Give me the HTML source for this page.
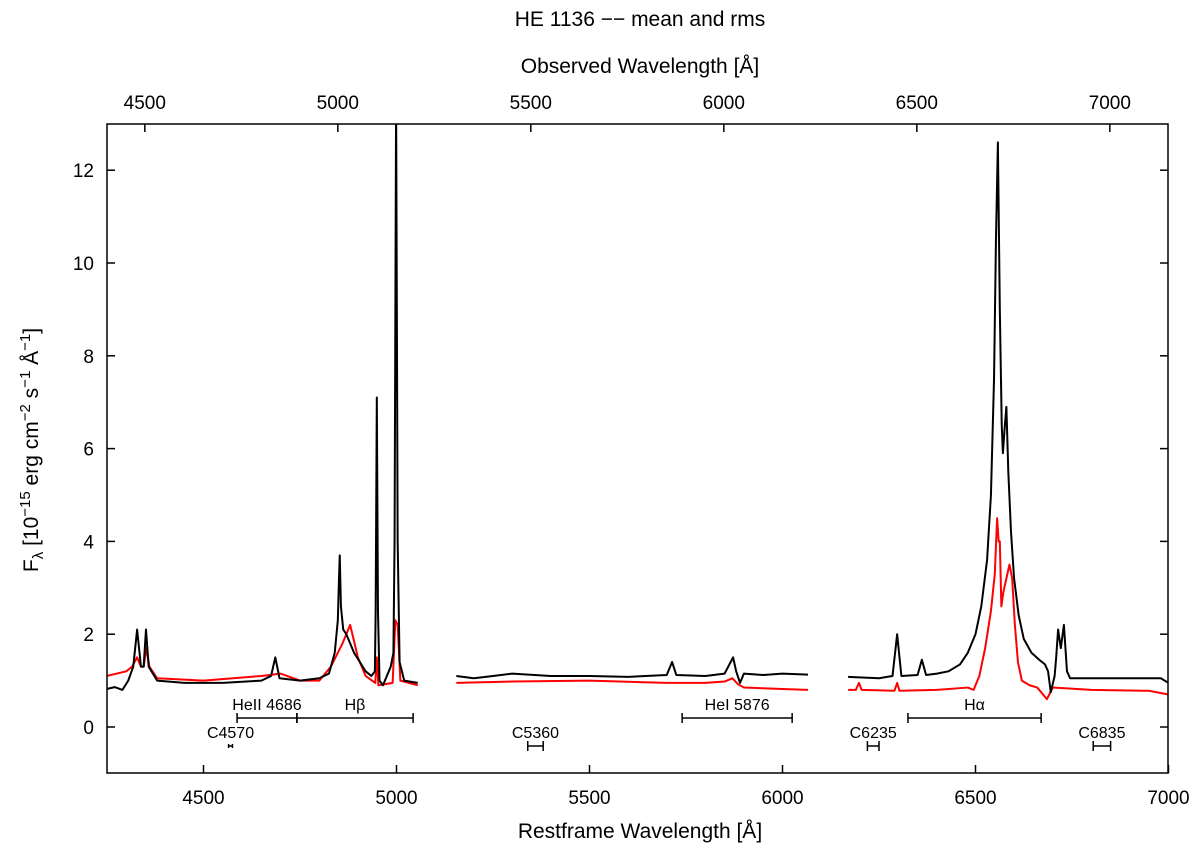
<!DOCTYPE html>
<html><head><meta charset="utf-8"><style>
body{margin:0;background:#fff}
svg text{font-family:"Liberation Sans",sans-serif;fill:#000}
</style></head><body>
<svg id="chart" width="1200" height="851" xmlns="http://www.w3.org/2000/svg">
<defs><clipPath id="clip"><rect x="107" y="124" width="1061" height="649"/></clipPath></defs>
<text x="640" y="26" font-size="21" text-anchor="middle">HE 1136 −−  mean and rms</text>
<text x="640" y="73" font-size="21" text-anchor="middle">Observed Wavelength [Å]</text>
<text x="640" y="838" font-size="21" text-anchor="middle">Restframe Wavelength [Å]</text>
<text transform="translate(38,450) rotate(-90)" font-size="21" text-anchor="middle">F<tspan font-size="15" dy="5">λ</tspan><tspan dy="-5"> [10</tspan><tspan font-size="15" dy="-8">−15</tspan><tspan dy="8"> erg cm</tspan><tspan font-size="15" dy="-8">−2</tspan><tspan dy="8"> s</tspan><tspan font-size="15" dy="-8">−1</tspan><tspan dy="8"> Å</tspan><tspan font-size="15" dy="-8">−1</tspan><tspan dy="8">]</tspan></text>
<g id="axes"></g>
<g id="series"></g>
<g id="annot"></g>
<rect x="107" y="124" width="1061" height="649" fill="none" stroke="#000" stroke-width="1.5"/>
</svg>
<script>
const bottomTicks=[4500,5000,5500,6000,6500,7000];
const topTicks=[4500,5000,5500,6000,6500,7000];
const yTicks=[0,2,4,6,8,10,12];
const obsOffset=152;
const blackWl1=[4250,4270,4290,4305,4318,4328,4338,4345,4351,4358,4380,4450,4550,4650,4675,4686,4697,4750,4800,4825,4840,4848,4851,4853,4856,4862,4870,4890,4920,4935,4944,4946,4949,4952,4956,4965,4985,4992,4995,4999,5003,5008,5020,5055];
const blackF1=[0.82,0.86,0.8,1.0,1.3,2.1,1.3,1.3,2.1,1.3,1.0,0.95,0.95,1.0,1.1,1.5,1.05,1.0,1.05,1.15,1.6,2.3,3.2,3.7,2.6,2.1,2.0,1.6,1.2,1.1,1.2,2.5,7.1,2.5,1.0,0.9,1.3,1.6,4.0,13.5,4.0,1.4,1.0,0.95];
const redWl1=[4250,4300,4315,4328,4338,4345,4352,4360,4380,4500,4650,4700,4750,4800,4830,4860,4880,4900,4920,4945,4949,4953,4990,4997,5003,5010,5055];
const redF1=[1.1,1.2,1.3,1.5,1.3,1.3,1.7,1.3,1.05,1.0,1.1,1.15,1.0,1.0,1.3,1.8,2.2,1.5,1.1,0.95,1.5,0.9,0.95,2.3,2.2,1.0,0.9];
const blackWl2=[5155,5200,5250,5300,5400,5500,5600,5700,5714,5725,5800,5850,5872,5880,5890,5900,5950,6000,6066];
const blackF2=[1.1,1.05,1.1,1.15,1.1,1.1,1.08,1.12,1.4,1.12,1.1,1.15,1.5,1.2,0.95,1.15,1.12,1.15,1.13];
const redWl2=[5155,5300,5500,5700,5800,5850,5870,5885,5900,6000,6066];
const redF2=[0.95,0.98,1.0,0.95,0.95,0.98,1.05,0.92,0.85,0.82,0.8];
const blackWl3=[6170,6250,6285,6297,6308,6350,6361,6372,6400,6430,6460,6480,6500,6515,6530,6540,6548,6553,6558,6563,6568,6571,6576,6580,6585,6592,6600,6612,6625,6645,6665,6680,6688,6695,6705,6709,6714,6721,6729,6737,6745,6800,6900,6980,7000];
const blackF3=[1.08,1.05,1.1,2.0,1.1,1.12,1.45,1.12,1.15,1.2,1.35,1.6,2.0,2.6,3.6,5.0,7.5,10.5,12.6,9.0,6.5,5.9,6.5,6.9,5.5,4.2,3.2,2.4,1.9,1.6,1.45,1.35,1.2,0.75,1.1,1.5,2.1,1.7,2.2,1.2,1.05,1.05,1.05,1.05,0.95];
const redWl3=[6170,6190,6198,6205,6290,6297,6303,6400,6480,6495,6510,6525,6540,6550,6556,6560,6563,6567,6572,6580,6588,6595,6602,6610,6620,6640,6660,6685,6700,6800,6950,7000];
const redF3=[0.8,0.8,0.95,0.8,0.78,0.95,0.78,0.8,0.85,0.8,1.1,1.7,2.5,3.3,4.5,4.0,4.0,2.6,2.9,3.2,3.5,3.2,2.2,1.4,1.0,0.9,0.85,0.6,0.85,0.8,0.78,0.7];
const markLabels=["HeII 4686","Hβ","HeI 5876","Hα"];
const markFrom=[4587,4742,5740,6325];
const markTo=[4742,5043,6025,6670];
const contLabels=["C4570","C5360","C6235","C6835"];
const contFrom=[4565,5340,6220,6805];
const contTo=[4575,5380,6250,6850];

const X=l=>107+(l-4250)*0.386;
const Y=f=>727-f*46.4;
const NS="http://www.w3.org/2000/svg";
function mk(tag,attrs,parent){const e=document.createElementNS(NS,tag);for(const k in attrs)e.setAttribute(k,attrs[k]);document.getElementById(parent).appendChild(e);return e;}
bottomTicks.forEach(t=>{
 const l=mk('line',{x1:X(t),x2:X(t),y1:773,y2:765,stroke:'#000','stroke-width':1.5},'axes');
 
 
 const tx=mk('text',{x:X(t),y:804,'font-size':19,'text-anchor':'middle'},'axes');tx.textContent=t;
 
 
});
topTicks.forEach(t=>{
 const x=X(t-obsOffset);
 const l=mk('line',{x1:x,x2:x,y1:124,y2:132,stroke:'#000','stroke-width':1.5},'axes');
 
 
 const tx=mk('text',{x:x,y:109,'font-size':19,'text-anchor':'middle'},'axes');tx.textContent=t;
 
 
});
yTicks.forEach(t=>{
 const y=Y(t);
 const l=mk('line',{x1:107,x2:115,y1:y,y2:y,stroke:'#000','stroke-width':1.5},'axes');
 
 
 const r=mk('line',{x1:1160,x2:1168,y1:y,y2:y,stroke:'#000','stroke-width':1.5},'axes');
 
 
 const tx=mk('text',{x:94,y:y+7,'font-size':19,'text-anchor':'end'},'axes');tx.textContent=t;
 
 
});
function line(wl,f,color,name){
 const p=mk('polyline',{points:wl.map((w,i)=>X(w)+','+Y(f[i])).join(' '),fill:'none',stroke:color,'stroke-width':2,'clip-path':'url(#clip)','stroke-linejoin':'round'},'series');
 
 
}
line(redWl1,redF1,'#f00','rms-spectrum-blue');
line(redWl2,redF2,'#f00','rms-spectrum-middle');
line(redWl3,redF3,'#f00','rms-spectrum-red');
line(blackWl1,blackF1,'#000','mean-spectrum-blue');
line(blackWl2,blackF2,'#000','mean-spectrum-middle');
line(blackWl3,blackF3,'#000','mean-spectrum-red');
function bar(a,b,y,h){
 const g=mk('path',{d:`M${X(a)},${y}H${X(b)}M${X(a)},${y-h}V${y+h}M${X(b)},${y-h}V${y+h}`,stroke:'#000','stroke-width':1.5,fill:'none'},'annot');
 
 
}
markLabels.forEach((s,i)=>{
 bar(markFrom[i],markTo[i],718,5);
 const t=mk('text',{x:(X(markFrom[i])+X(markTo[i]))/2,y:710,'font-size':16,'text-anchor':'middle'},'annot');t.textContent=s;
 
 
});
contLabels.forEach((s,i)=>{
 bar(contFrom[i],contTo[i],746,i==0?2:5);
 const t=mk('text',{x:(X(contFrom[i])+X(contTo[i]))/2,y:738,'font-size':16,'text-anchor':'middle'},'annot');t.textContent=s;
 
 
});
</script>
</body></html>
